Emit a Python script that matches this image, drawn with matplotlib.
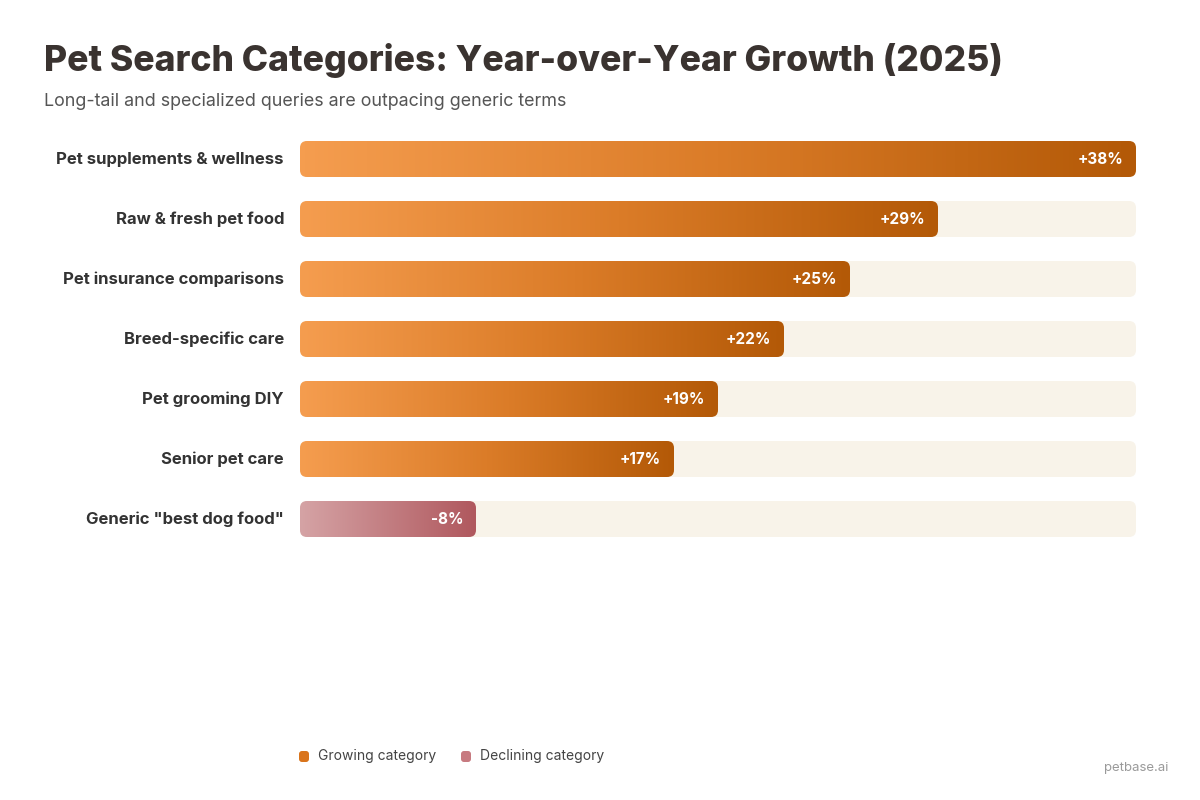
import matplotlib.pyplot as plt
import numpy as np
from matplotlib.colors import LinearSegmentedColormap
from matplotlib.patches import FancyBboxPatch

plt.rcParams['font.family'] = ['Inter', 'DejaVu Sans']

categories = ["Pet supplements & wellness", "Raw & fresh pet food", "Pet insurance comparisons",
              "Breed-specific care", "Pet grooming DIY", "Senior pet care", 'Generic "best dog food"']
growth = [38, 29, 25, 22, 19, 17, -8]
value_labels = ["+38%", "+29%", "+25%", "+22%", "+19%", "+17%", "-8%"]

grow_cmap = LinearSegmentedColormap.from_list("grow", ["#F59D4F", "#DB7C28", "#B35907"])
decl_cmap = LinearSegmentedColormap.from_list("decl", ["#D5A3A5", "#B0585E"])

fig = plt.figure(figsize=(12, 8), dpi=100)
fig.patch.set_facecolor("white")

# bar area in pixels: x 300..1136, rows centred 159..519
ax = fig.add_axes([300 / 1200, 1 - 549 / 800, 836 / 1200, 420 / 800])
xmax = max(abs(v) for v in growth)
ax.axis("off")

px_x = 836 / xmax   # pixels per x unit
px_y = 60           # pixels per row
r = 7 / px_x
asp = px_x / px_y
h = 36 / px_y
gradient = np.linspace(0, 1, 256).reshape(1, -1)

for i, (cat, v, lab) in enumerate(zip(categories, growth, value_labels)):
    track = FancyBboxPatch((0, i - h / 2), xmax, h, boxstyle=f"round,pad=0,rounding_size={r}",
                           mutation_aspect=asp, fc="#F8F3E9", ec="none")
    ax.add_patch(track)
    w = abs(v)
    bar = FancyBboxPatch((0, i - h / 2), w, h, boxstyle=f"round,pad=0,rounding_size={r}",
                         mutation_aspect=asp, fc="none", ec="none")
    ax.add_patch(bar)
    cm = grow_cmap if v >= 0 else decl_cmap
    im = ax.imshow(gradient, extent=[0, w, i - h / 2, i + h / 2], cmap=cm, aspect="auto",
                   interpolation="bilinear", zorder=2)
    im.set_clip_path(bar)
    ax.text(w - 13 / px_x, i, lab, ha="right", va="center", color="white",
            fontsize=11, fontweight="bold", zorder=3)
    ax.text(-16 / px_x, i, cat, ha="right", va="center", color="#333333",
            fontsize=12, fontweight="bold")

ax.set_xlim(0, xmax)
ax.set_ylim(len(categories) - 0.5, -0.5)

fig.text(44 / 1200, 1 - 60 / 800, "Pet Search Categories: Year-over-Year Growth (2025)",
         fontsize=25.6, fontweight="heavy", color="#3A3330", va="center", ha="left")
fig.text(44 / 1200, 1 - 101 / 800, "Long-tail and specialized queries are outpacing generic terms",
         fontsize=12.9, color="#555555", va="center", ha="left")

# legend
leg = fig.add_axes([0, 0, 1, 1])
leg.set_xlim(0, 1200)
leg.set_ylim(800, 0)
leg.axis("off")
for x0, col, txt in [(299, "#D9741C", "Growing category"), (461, "#C77A80", "Declining category")]:
    leg.add_patch(FancyBboxPatch((x0, 751), 10, 11, boxstyle="round,pad=0,rounding_size=3",
                                 fc=col, ec="none"))
    leg.text(x0 + 19, 756, txt, fontsize=10, color="#444444", va="center", ha="left")
leg.text(1168, 768, "petbase.ai", fontsize=9.5, color="#9A9A9A", va="center", ha="right")

fig.savefig("out.png", dpi=100, facecolor="white")
